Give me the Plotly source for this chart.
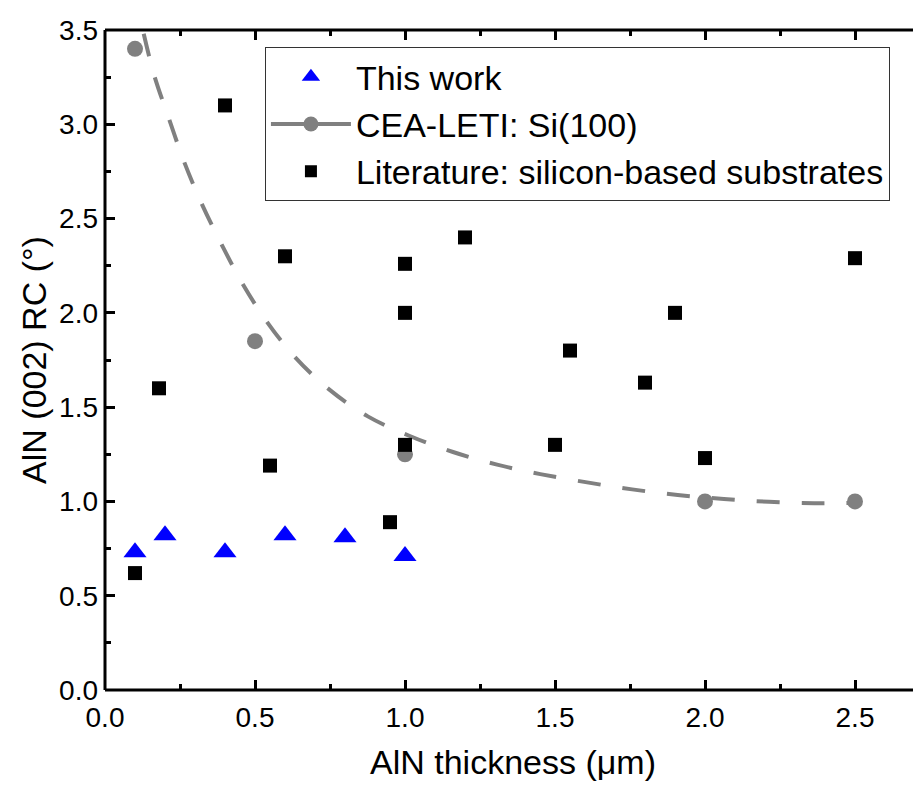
import plotly.graph_objects as go

# --- data ---
this_x = [0.1, 0.2, 0.4, 0.6, 0.8, 1.0]
this_y = [0.73, 0.82, 0.73, 0.82, 0.81, 0.71]

cea_x = [0.1, 0.5, 1.0, 2.0, 2.5]
cea_y = [3.4, 1.85, 1.25, 1.0, 1.0]

# dashed guide curve
fit_x = [0.129, 0.164, 0.213, 0.264, 0.322, 0.388, 0.459, 0.541, 0.633, 0.747,
         0.876, 1.016, 1.16, 1.307, 1.451, 1.607, 1.757, 1.909, 2.063, 2.213,
         2.364, 2.5]
fit_y = [3.48, 3.26, 3.03, 2.80, 2.58, 2.365, 2.153, 1.95, 1.766, 1.594,
         1.451, 1.347, 1.262, 1.195, 1.145, 1.101, 1.064, 1.034, 1.013, 0.998,
         0.991, 0.993]

lit_x = [0.1, 0.18, 0.4, 0.55, 0.6, 0.95, 1.0, 1.0, 1.0, 1.2, 1.5, 1.55, 1.8, 1.9, 2.0, 2.5]
lit_y = [0.62, 1.6, 3.1, 1.19, 2.3, 0.89, 2.26, 2.0, 1.3, 2.4, 1.3, 1.8, 1.63, 2.0, 1.23, 2.29]

x_ticks = [0.0, 0.5, 1.0, 1.5, 2.0, 2.5]
y_ticks = [0.0, 0.5, 1.0, 1.5, 2.0, 2.5, 3.0, 3.5]

FONT = "Liberation Sans, Arial, sans-serif"
GRAY = "#808080"

fig = go.Figure()

fig.add_trace(go.Scatter(x=fit_x, y=fit_y, mode="lines",
                         line=dict(color=GRAY, width=4, dash="23px,22px", shape="spline"),
                         showlegend=False, hoverinfo="skip"))
fig.add_trace(go.Scatter(x=cea_x, y=cea_y, mode="markers",
                         marker=dict(symbol="circle", size=16, color=GRAY),
                         showlegend=False))
fig.add_trace(go.Scatter(x=lit_x, y=lit_y, mode="markers",
                         marker=dict(symbol="square", size=14, color="black"),
                         showlegend=False))
fig.add_trace(go.Scatter(x=this_x, y=this_y, mode="markers",
                         marker=dict(symbol="triangle-up", size=20, color="#0000FF"),
                         showlegend=False))

# legend entries
fig.add_trace(go.Scatter(x=[None], y=[None], mode="markers", name="This work",
                         marker=dict(symbol="triangle-up", size=17, color="#0000FF"),
                         legendrank=1))
fig.add_trace(go.Scatter(x=[None], y=[None], mode="lines+markers", name="CEA-LETI: Si(100)",
                         marker=dict(symbol="circle", size=15, color=GRAY),
                         line=dict(color=GRAY, width=4),
                         legendrank=2))
fig.add_trace(go.Scatter(x=[None], y=[None], mode="markers",
                         name="Literature: silicon-based substrates",
                         marker=dict(symbol="square", size=12, color="black"),
                         legendrank=3))

axis_common = dict(showgrid=False, zeroline=False, showline=False,
                   ticks="inside", ticklen=10, tickwidth=3, tickcolor="black",
                   tickfont=dict(family=FONT, size=28, color="black"))
minor_common = dict(dtick=0.25, tick0=0, ticks="inside", ticklen=6, tickwidth=3, tickcolor="black")

fig.update_layout(
    width=913, height=777,
    margin=dict(l=97, r=0, t=22, b=95),
    paper_bgcolor="white", plot_bgcolor="white",
    font=dict(family=FONT, color="black"),
    xaxis=dict(range=[0, 2.72], tickvals=x_ticks, ticktext=[f"{v:.1f}" for v in x_ticks],
               minor=minor_common, ticklabelstandoff=8,
               title=dict(text="AlN thickness (μm)", font=dict(family=FONT, size=34), standoff=18),
               **axis_common),
    xaxis2=dict(range=[0, 2.72], overlaying="x", side="top", showticklabels=False,
                tickvals=x_ticks, minor=minor_common, **axis_common),
    yaxis=dict(range=[0, 3.5], tickvals=y_ticks, ticktext=[f"{v:.1f}" for v in y_ticks],
               minor=minor_common, ticklabelstandoff=6,
               title=dict(text="AlN (002) RC (°)", font=dict(family=FONT, size=34), standoff=2),
               **axis_common),
    yaxis2=dict(range=[0, 3.5], overlaying="y", side="right", showticklabels=False,
                showgrid=False, zeroline=False, showline=False,
                tickvals=y_ticks, ticks="inside", ticklen=3, tickwidth=3, tickcolor="black"),
    legend=dict(x=0.196, y=0.974, xanchor="left", yanchor="top",
                bgcolor="white", bordercolor="#333333", borderwidth=1,
                font=dict(family=FONT, size=34, color="black"),
                itemwidth=80, tracegroupgap=0),
)

# dummy traces to activate top and right axes
fig.add_trace(go.Scatter(x=[None], y=[None], xaxis="x2", showlegend=False))
fig.add_trace(go.Scatter(x=[None], y=[None], yaxis="y2", showlegend=False))

# spines: left, bottom, top
fig.add_shape(type="line", xref="paper", yref="paper", x0=0, x1=0, y0=0, y1=1,
              line=dict(color="black", width=3))
fig.add_shape(type="line", xref="paper", yref="paper", x0=0, x1=1, y0=0, y1=0,
              line=dict(color="black", width=3))
fig.add_shape(type="line", xref="paper", yref="paper", x0=0, x1=1, y0=1, y1=1,
              line=dict(color="black", width=3))

fig.write_html("out.html")
